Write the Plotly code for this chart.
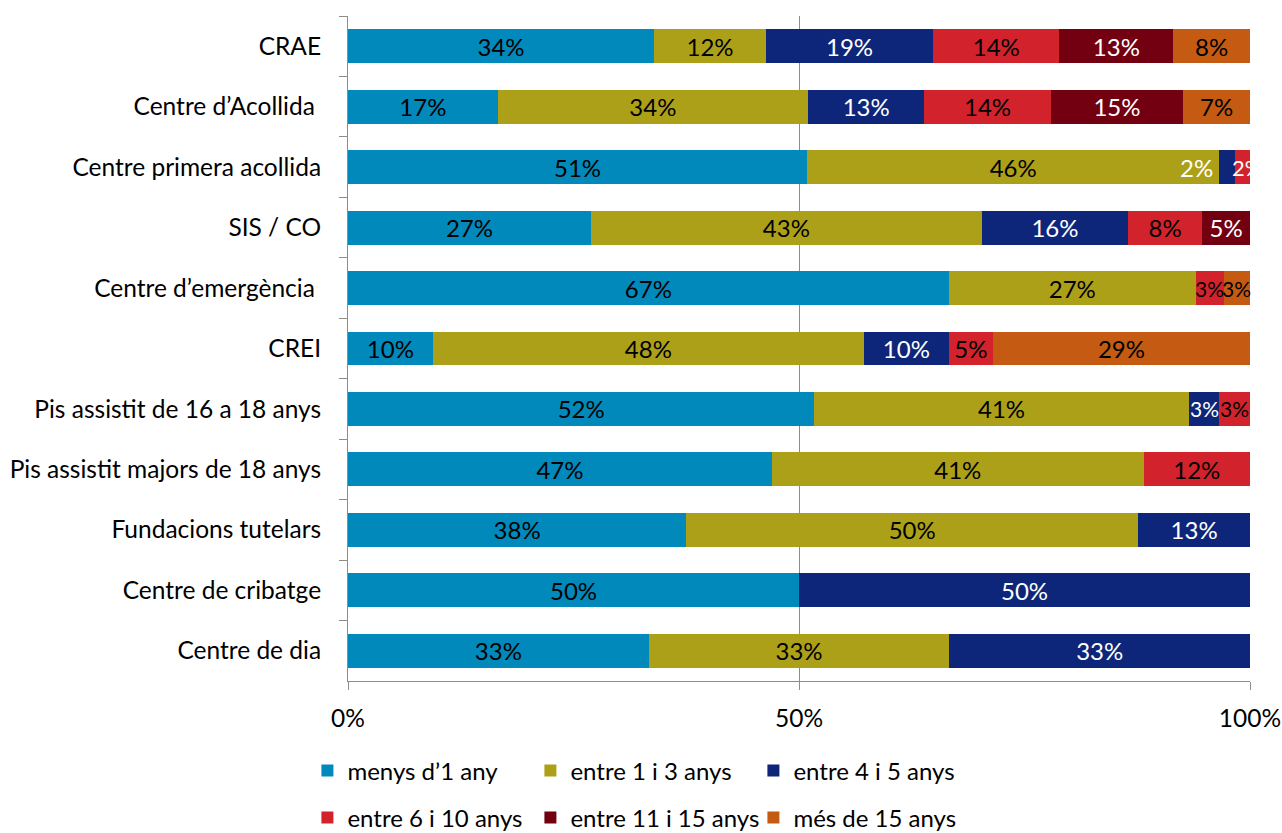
import plotly.graph_objects as go

categories = [
    "CRAE",
    "Centre d\u2019Acollida ",
    "Centre primera acollida",
    "SIS / CO",
    "Centre d\u2019emergència ",
    "CREI",
    "Pis assistit de 16 a 18 anys",
    "Pis assistit majors de 18 anys",
    "Fundacions tutelars",
    "Centre de cribatge",
    "Centre de dia",
]

series_names = [
    "menys d\u20191 any",
    "entre 1 i 3 anys",
    "entre 4 i 5 anys",
    "entre 6 i 10 anys",
    "entre 11 i 15 anys",
    "més de 15 anys",
]

menys_1 = [33.9, 16.6, 50.9, 26.9, 66.6, 9.4, 51.7, 47.0, 37.5, 50.0, 33.3]
entre_1_3 = [12.4, 34.4, 45.7, 43.3, 27.4, 47.8, 41.5, 41.2, 50.1, 0, 33.3]
entre_4_5 = [18.5, 12.9, 1.7, 16.2, 0, 9.4, 3.4, 0, 12.4, 50.0, 33.3]
entre_6_10 = [14.0, 14.0, 1.7, 8.2, 3.1, 4.9, 3.4, 11.8, 0, 0, 0]
entre_11_15 = [12.6, 14.7, 0, 5.3, 0, 0, 0, 0, 0, 0, 0]
mes_15 = [8.5, 7.4, 0, 0, 2.9, 28.5, 0, 0, 0, 0, 0]

# etiquetes tal com surten al gràfic
lbl_menys_1 = ["34%", "17%", "51%", "27%", "67%", "10%", "52%", "47%", "38%", "50%", "33%"]
lbl_1_3 = ["12%", "34%", "46%", "43%", "27%", "48%", "41%", "41%", "50%", "", "33%"]
lbl_4_5 = ["19%", "13%", "2%", "16%", "", "10%", "3%", "", "13%", "50%", "33%"]
lbl_6_10 = ["14%", "14%", "2%", "8%", "3%", "5%", "3%", "12%", "", "", ""]
lbl_11_15 = ["13%", "15%", "", "5%", "", "", "", "", "", "", ""]
lbl_15 = ["8%", "7%", "", "", "3%", "29%", "", "", "", "", ""]

values = [menys_1, entre_1_3, entre_4_5, entre_6_10, entre_11_15, mes_15]
labels = [lbl_menys_1, lbl_1_3, lbl_4_5, lbl_6_10, lbl_11_15, lbl_15]
colors = ["#0289BB", "#ADA019", "#0E2679", "#D2232C", "#730011", "#C55A12"]
text_colors = ["black", "black", "white", "black", "white", "black"]

FONT = "Lato, Carlito, Calibri, sans-serif"
FS = 24
SMALL = 4  # segments massa estrets: etiqueta com a anotació

special = categories.index("Centre primera acollida")
totals = [sum(v[r] for v in values) for r in range(len(categories))]

fig = go.Figure()
for i, (name, vals, lbl) in enumerate(zip(series_names, values, labels)):
    txt = [("" if 0 < v < SMALL else t) for v, t in zip(vals, lbl)]
    fig.add_trace(go.Bar(
        name=name,
        y=categories,
        x=vals,
        orientation="h",
        text=txt,
        textposition="inside",
        insidetextanchor="middle",
        textangle=0,
        textfont=dict(color=text_colors[i], size=FS, family=FONT),
        marker=dict(color=colors[i], line=dict(width=0)),
        legend="legend" if i < 3 else "legend2",
        hoverinfo="skip",
    ))

# etiquetes dels segments petits
for r, cat in enumerate(categories):
    start = 0.0
    for i, vals in enumerate(values):
        v = vals[r] / totals[r] * 100
        if 0 < vals[r] < SMALL:
            col = text_colors[i]
            if r == special and i == 2:
                # a l'original surt a l'esquerra del segment
                fig.add_annotation(x=start, y=cat, text=labels[i][r], xanchor="right",
                                   xshift=-4, showarrow=False,
                                   font=dict(color="white", size=FS, family=FONT))
            elif r == special and i == 3:
                fig.add_annotation(x=start, y=cat, text=labels[i][r], xanchor="left",
                                   xshift=-5, showarrow=False,
                                   font=dict(color="white", size=22, family=FONT))
            else:
                fig.add_annotation(x=start + v / 2, y=cat, text=labels[i][r],
                                   showarrow=False,
                                   font=dict(color=col, size=21, family=FONT))
        start += v

fig.update_layout(
    barmode="stack",
    barnorm="percent",
    bargap=0.44,
    width=1282,
    height=833,
    margin=dict(l=348, r=32, t=16, b=152, autoexpand=False),
    plot_bgcolor="white",
    paper_bgcolor="white",
    font=dict(family=FONT, size=FS, color="black"),
    uniformtext=dict(minsize=FS, mode="show"),
    legend=dict(
        orientation="h", x=-0.045, xanchor="left", y=-0.135, yanchor="middle",
        entrywidth=178, entrywidthmode="pixels", font=dict(size=24),
        traceorder="normal",
    ),
    legend2=dict(
        orientation="h", x=-0.045, xanchor="left", y=-0.206, yanchor="middle",
        entrywidth=178, entrywidthmode="pixels", font=dict(size=24),
        traceorder="normal",
    ),
)

fig.update_xaxes(
    range=[0, 100],
    tickvals=[0, 50, 100],
    ticktext=["0%", "50%", "100%"],
    ticks="outside",
    ticklen=8,
    tickcolor="#8C8C8C",
    showgrid=True,
    gridcolor="#8C8C8C",
    gridwidth=1,
    showline=True,
    linecolor="#8C8C8C",
    linewidth=1,
    zeroline=False,
    ticklabelstandoff=8,
    tickfont=dict(size=24.5),
    automargin=False,
)
fig.update_yaxes(
    autorange="reversed",
    ticks="outside",
    tickson="boundaries",
    ticklen=8,
    tickcolor="#8C8C8C",
    showline=True,
    linecolor="#8C8C8C",
    linewidth=1,
    showgrid=False,
    ticklabelstandoff=21,
    tickfont=dict(size=24.5),
    automargin=False,
)

fig.write_html("out.html", config={"displayModeBar": False},
               post_script="document.body.style.margin='0';")
